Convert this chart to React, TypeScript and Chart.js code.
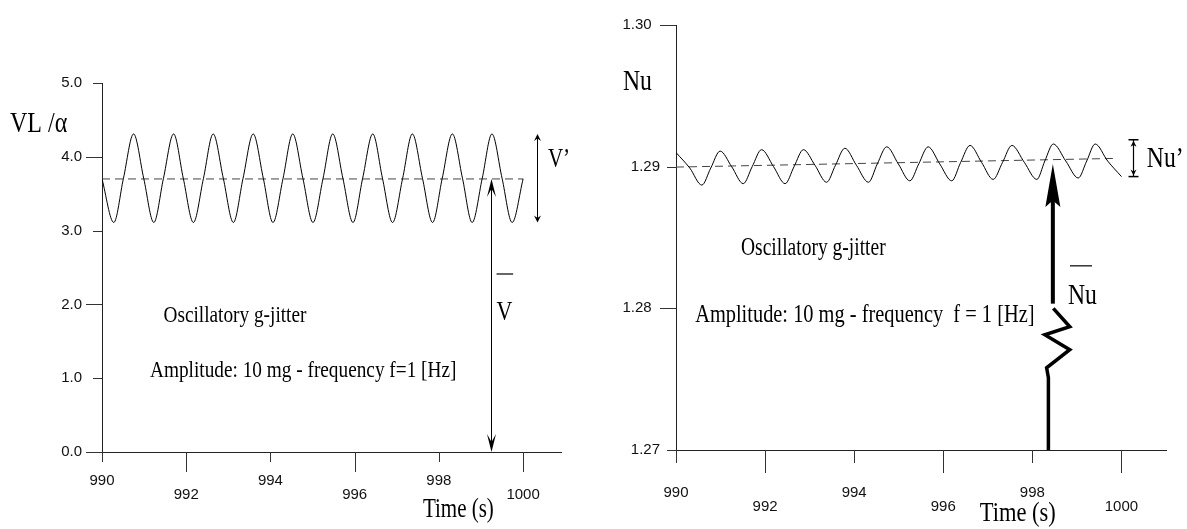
import React, { useEffect, useRef } from 'react';
import { Chart, registerables } from 'chart.js';

Chart.register(...registerables);

// ---------- data ----------
const xTicks = [990, 992, 994, 996, 998, 1000];
const xTickLabels = ['990', '992', '994', '996', '998', '1000'];

const leftYTicks = [0, 1, 2, 3, 4, 5];
const leftYTickLabels = ['0.0', '1.0', '2.0', '3.0', '4.0', '5.0'];

const leftTime = [
  990.0, 990.28, 990.51, 990.75, 990.99, 991.23, 991.46, 991.7, 991.93, 992.17,
  992.41, 992.64, 992.88, 993.12, 993.35, 993.59, 993.83, 994.06, 994.3, 994.53,
  994.77, 995.01, 995.25, 995.48, 995.72, 995.96, 996.19, 996.43, 996.66, 996.9,
  997.14, 997.37, 997.61, 997.85, 998.08, 998.32, 998.56, 998.79, 999.03, 999.26,
  999.5, 999.74, 1000.0,
];
const leftVelocity = [
  3.7, 3.11, 3.71, 4.31, 3.71, 3.11, 3.71, 4.31, 3.71, 3.11,
  3.71, 4.31, 3.71, 3.11, 3.71, 4.31, 3.71, 3.11, 3.71, 4.31,
  3.71, 3.11, 3.71, 4.31, 3.71, 3.11, 3.71, 4.31, 3.71, 3.11,
  3.71, 4.31, 3.71, 3.11, 3.71, 4.31, 3.71, 3.11, 3.71, 4.31,
  3.71, 3.11, 3.7,
];
const leftMeanTime = [990, 1000];
const leftMeanValue = [3.7, 3.7];

const rightYTicks = [1.27, 1.28, 1.29, 1.3];
const rightYTickLabels = ['1.27', '1.28  ', '1.29', '1.30  '];

const rightTime = [
  990.0, 990.31, 990.58, 990.78, 990.99, 991.25, 991.51, 991.71, 991.92, 992.19,
  992.45, 992.65, 992.86, 993.12, 993.38, 993.58, 993.79, 994.05, 994.32, 994.52,
  994.73, 994.99, 995.25, 995.45, 995.66, 995.92, 996.19, 996.39, 996.6, 996.86,
  997.12, 997.33, 997.54, 997.82, 998.1, 998.28, 998.47, 998.75, 999.03, 999.22,
  999.41, 999.69, 1000.0,
];
const rightNusselt = [
  1.291, 1.2899, 1.2887, 1.2899, 1.2911, 1.29, 1.2888, 1.29, 1.2912, 1.29,
  1.2888, 1.29, 1.2912, 1.2901, 1.2889, 1.2901, 1.2913, 1.2901, 1.2889, 1.2902,
  1.2914, 1.2902, 1.289, 1.2902, 1.2914, 1.2902, 1.289, 1.2903, 1.2915, 1.2903,
  1.2891, 1.2903, 1.2915, 1.2903, 1.2891, 1.2904, 1.2916, 1.2904, 1.2892, 1.2904,
  1.2916, 1.2904, 1.2893,
];
const rightMeanTime = [990, 999.81];
const rightMeanValue = [1.28997, 1.29058];

// zig-zag "resistance" drawn below the mean-Nu arrow (data coordinates)
const zigTime = [998.47, 998.84, 998.28, 998.84, 998.32, 998.36, 998.36];
const zigValue = [1.28, 1.2787, 1.27813, 1.27708, 1.2758, 1.2751, 1.27];

// ---------- styling helpers ----------
const SERIF = '"Liberation Serif", "Times New Roman", serif';
const SANS = '"Liberation Sans", Arial, sans-serif';
const STRETCH = 1.25;

function sText(ctx, text, x, y, size, align = 'left') {
  ctx.save();
  ctx.translate(x, y);
  ctx.scale(1, STRETCH);
  ctx.font = `${size}px ${SERIF}`;
  ctx.textAlign = align;
  ctx.textBaseline = 'alphabetic';
  ctx.fillStyle = '#000';
  ctx.fillText(text, 0, 0);
  ctx.restore();
}

function line(ctx, x1, y1, x2, y2, w = 1, color = '#000') {
  ctx.save();
  ctx.strokeStyle = color;
  ctx.lineWidth = w;
  ctx.beginPath();
  ctx.moveTo(x1, y1);
  ctx.lineTo(x2, y2);
  ctx.stroke();
  ctx.restore();
}

// up = tip points upwards
function head(ctx, x, tipY, up, len, half, notch) {
  const s = up ? 1 : -1;
  ctx.save();
  ctx.fillStyle = '#000';
  ctx.beginPath();
  ctx.moveTo(x, tipY);
  ctx.lineTo(x - half, tipY + s * len);
  ctx.lineTo(x, tipY + s * len * (1 - notch));
  ctx.lineTo(x + half, tipY + s * len);
  ctx.closePath();
  ctx.fill();
  ctx.restore();
}

function drawTicks(chart, xShort, xLong, yShortFirst) {
  const { ctx, chartArea, scales } = chart;
  const xs = scales.x;
  const ys = scales.y;
  ctx.save();
  ctx.strokeStyle = '#333';
  ctx.lineWidth = 1;
  xs.ticks.forEach((t, i) => {
    const px = Math.round(xs.getPixelForValue(t.value)) + 0.5;
    const len = i % 2 === 0 ? xShort : xLong;
    ctx.beginPath();
    ctx.moveTo(px, chartArea.bottom);
    ctx.lineTo(px, chartArea.bottom + len);
    ctx.stroke();
  });
  ys.ticks.forEach((t, i) => {
    const py = Math.round(ys.getPixelForValue(t.value)) + 0.5;
    const isShort = yShortFirst ? i % 2 === 0 : i % 2 === 1;
    const len = isShort ? 9 : 16;
    ctx.beginPath();
    ctx.moveTo(chartArea.left - len, py);
    ctx.lineTo(chartArea.left, py);
    ctx.stroke();
  });
  ctx.restore();
}

const leftAnnotations = {
  id: 'leftAnnotations',
  afterDraw(chart) {
    const { ctx, chartArea, scales } = chart;
    const X = (v) => scales.x.getPixelForValue(v);
    const Y = (v) => scales.y.getPixelForValue(v);
    drawTicks(chart, 10, 20, false);

    // V' double arrow
    const vx = Math.round(X(1000.33)) + 0.5;
    line(ctx, vx, Y(4.31) + 2, vx, Y(3.11) - 2, 1);
    head(ctx, vx, Y(4.31), true, 7, 3.5, 0.35);
    head(ctx, vx, Y(3.11), false, 7, 3.5, 0.35);

    // mean V double arrow
    const mx = Math.round(X(999.24)) + 0.5;
    line(ctx, mx, Y(3.7) + 3, mx, Y(0) - 3, 1);
    head(ctx, mx, Y(3.7), true, 18, 4.5, 0.45);
    head(ctx, mx, Y(0), false, 18, 4.5, 0.45);

    // texts
    sText(ctx, 'VL /\u03b1', chartArea.left - 92, Y(4.34), 24);
    sText(ctx, 'Oscillatory g-jitter', X(991.46), Y(1.766), 19.3);
    sText(ctx, 'Amplitude: 10 mg - frequency f=1 [Hz]', X(991.14), Y(1.02), 19.3);
    sText(ctx, 'V\u2019', X(1000.59), Y(3.866), 21);
    sText(ctx, 'V', X(999.37), Y(1.789), 22);
    line(ctx, X(999.37), Y(2.412), X(999.37) + 16.6, Y(2.412), 1.2);
    sText(ctx, 'Time (s)', X(997.62), chartArea.bottom + 65, 21);
  },
};

const rightAnnotations = {
  id: 'rightAnnotations',
  afterDraw(chart) {
    const { ctx, chartArea, scales } = chart;
    const X = (v) => scales.x.getPixelForValue(v);
    const Y = (v) => scales.y.getPixelForValue(v);
    drawTicks(chart, 13, 23, true);

    // Nu' I-beam arrow
    const nx = Math.round(X(1000.26)) + 0.5;
    const nTop = Y(1.2919);
    const nBot = Y(1.2893);
    line(ctx, nx, nTop, nx, nBot, 1.2);
    line(ctx, nx - 5, nTop, nx + 5, nTop, 1.5);
    line(ctx, nx - 5, nBot, nx + 5, nBot, 1.5);
    head(ctx, nx, nTop + 1, true, 6, 3, 0.3);
    head(ctx, nx, nBot - 1, false, 6, 3, 0.3);

    // bold mean-Nu arrow
    const ax = X(998.46);
    const tipY = Y(1.29019);
    line(ctx, ax, Y(1.28033), ax, tipY + 30, 4);
    head(ctx, ax, tipY, true, 43, 7.5, 0.15);

    // zig-zag
    ctx.save();
    ctx.strokeStyle = '#000';
    ctx.lineWidth = 3.5;
    ctx.lineJoin = 'miter';
    ctx.beginPath();
    zigTime.forEach((t, i) => {
      const px = X(t);
      const py = Y(zigValue[i]);
      if (i === 0) ctx.moveTo(px, py);
      else ctx.lineTo(px, py);
    });
    ctx.stroke();
    ctx.restore();

    // texts
    sText(ctx, 'Nu', chartArea.left - 53, Y(1.29541), 23.7);
    sText(ctx, 'Oscillatory g-jitter', X(991.46), Y(1.28377), 19.5);
    sText(ctx, 'Amplitude: 10 mg - frequency  f = 1 [Hz]', X(990.43), Y(1.27905), 20.4);
    sText(ctx, 'Nu\u2019', X(1000.57), Y(1.28996), 23.7);
    sText(ctx, 'Nu', X(998.8), Y(1.28033), 23.7);
    line(ctx, X(998.8) + 2, Y(1.283), X(998.8) + 24, Y(1.283), 1.2);
    sText(ctx, 'Time (s)', X(996.82), chartArea.bottom + 71, 22.5);
  },
};

function xAxis(min, max, height, padding) {
  return {
    type: 'linear',
    min,
    max,
    afterBuildTicks: (s) => {
      s.ticks = xTicks.map((v) => ({ value: v }));
    },
    afterFit: (s) => {
      s.height = height;
    },
    grid: { display: false, drawTicks: false },
    border: { display: true, color: '#222', width: 1 },
    ticks: {
      autoSkip: false,
      maxRotation: 0,
      minRotation: 0,
      padding,
      color: '#111',
      font: { family: SANS, size: 15, lineHeight: 0.93 },
      callback: (_v, i) => (i % 2 === 1 ? ['', xTickLabels[i]] : xTickLabels[i]),
    },
  };
}

function yAxis(min, max, width, padding, tickValues, tickLabels) {
  return {
    type: 'linear',
    min,
    max,
    afterBuildTicks: (s) => {
      s.ticks = tickValues.map((v) => ({ value: v }));
    },
    afterFit: (s) => {
      s.width = width;
    },
    grid: { display: false, drawTicks: false },
    border: { display: true, color: '#222', width: 1 },
    ticks: {
      autoSkip: false,
      padding,
      color: '#111',
      font: { family: SANS, size: 15 },
      callback: (_v, i) => tickLabels[i],
    },
  };
}

function makeDatasets(times, values, meanT, meanV) {
  return [
    {
      data: times.map((t, i) => ({ x: t, y: values[i] })),
      borderColor: '#000',
      borderWidth: 1,
      pointRadius: 0,
      cubicInterpolationMode: 'monotone',
      fill: false,
    },
    {
      data: meanT.map((t, i) => ({ x: t, y: meanV[i] })),
      borderColor: '#444',
      borderWidth: 1,
      borderDash: [8, 5],
      pointRadius: 0,
      fill: false,
    },
  ];
}

export default function App() {
  const leftRef = useRef(null);
  const rightRef = useRef(null);

  useEffect(() => {
    const common = {
      animation: false,
      responsive: false,
      maintainAspectRatio: false,
      events: [],
    };
    const left = new Chart(leftRef.current, {
      type: 'line',
      data: { datasets: makeDatasets(leftTime, leftVelocity, leftMeanTime, leftMeanValue) },
      options: {
        ...common,
        layout: { padding: { left: 0, top: 83, right: 39, bottom: 0 } },
        plugins: { legend: { display: false }, tooltip: { enabled: false } },
        scales: {
          x: xAxis(990, 1000.9, 77, 21.5),
          y: yAxis(0, 5, 102, 20, leftYTicks, leftYTickLabels),
        },
      },
      plugins: [leftAnnotations],
    });
    const right = new Chart(rightRef.current, {
      type: 'line',
      data: { datasets: makeDatasets(rightTime, rightNusselt, rightMeanTime, rightMeanValue) },
      options: {
        ...common,
        layout: { padding: { left: 0, top: 19, right: 21, bottom: 0 } },
        plugins: { legend: { display: false }, tooltip: { enabled: false } },
        scales: {
          x: xAxis(990, 1001, 79, 35.5),
          y: yAxis(1.27, 1.3, 76, 16, rightYTicks, rightYTickLabels),
        },
      },
      plugins: [rightAnnotations],
    });
    return () => {
      left.destroy();
      right.destroy();
    };
  }, []);

  return (
    <div style={{ position: 'absolute', left: 0, top: 0, width: 1187, height: 529, background: '#fff' }}>
      <canvas
        ref={leftRef}
        width={600}
        height={529}
        style={{ position: 'absolute', left: 0, top: 0, width: 600, height: 529 }}
      />
      <canvas
        ref={rightRef}
        width={587}
        height={529}
        style={{ position: 'absolute', left: 600, top: 0, width: 587, height: 529 }}
      />
    </div>
  );
}
